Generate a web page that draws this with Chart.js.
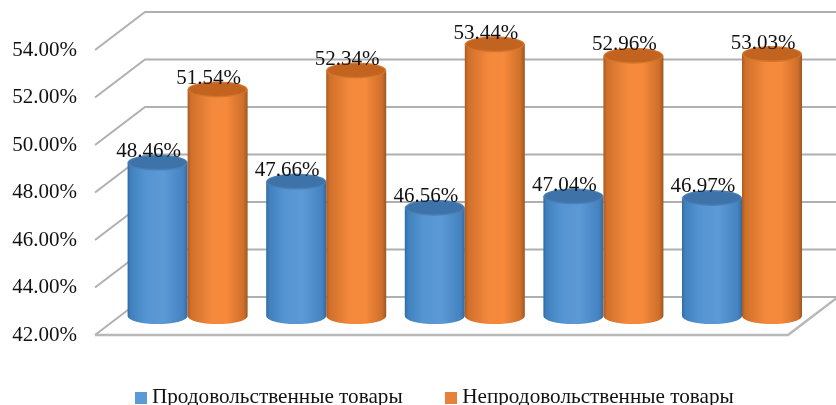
<!DOCTYPE html>
<html>
<head>
<meta charset="utf-8">
<style>
html,body{margin:0;padding:0;background:#fff;overflow:hidden}
canvas{display:block;filter:blur(0.6px)}
</style>
<script src="https://cdn.jsdelivr.net/npm/chart.js@4"></script>
</head>
<body>
<canvas id="c" width="836" height="405"></canvas>
<script>
const categories = ['1', '2', '3', '4', '5'];
const foodValues = [48.46, 47.66, 46.56, 47.04, 46.97];
const nonFoodValues = [51.54, 52.34, 53.44, 52.96, 53.03];
const seriesNames = ['Продовольственные товары', 'Непродовольственные товары'];
const seriesColors = ['#5b9bd5', '#e8803a'];

const FONT = '"Liberation Serif","Times New Roman",serif';
const depthX = 50, depthY = 38;      // wall offset of the 3D box
const midX = 23.3, midY = 19;        // cylinders stand mid-depth
const ry = 8;

const ramps = [
  [[0,'#33699f'],[0.05,'#4080bd'],[0.3,'#5494d2'],[0.6,'#5c9ad6'],[0.93,'#4483c0'],[1,'#36699c']],
  [[0,'#ad5a20'],[0.06,'#d0702c'],[0.4,'#f4893c'],[0.65,'#f6893b'],[0.93,'#cf6f2a'],[1,'#9c5722']]
];
const tops = [['#3d73a9','#4a80b6'],['#c2641f','#d4762c']];

function markerImage(color){
  const m = document.createElement('canvas');
  m.width = 12; m.height = 12;
  const g = m.getContext('2d');
  g.fillStyle = color; g.fillRect(0,0,12,12);
  return m;
}

const box3d = {
  id:'box3d',
  beforeDatasetsDraw(chart){
    const {ctx, chartArea:a, scales:{y}} = chart;
    const by = y.getPixelForValue(y.min);
    ctx.save();
    ctx.lineWidth = 2;
    ctx.strokeStyle = '#b0b0b0';
    y.ticks.forEach(t=>{
      const py = y.getPixelForValue(t.value);
      ctx.beginPath();
      ctx.moveTo(a.left, py);
      ctx.lineTo(a.left+depthX, py-depthY);
      ctx.lineTo(a.right+depthX, py-depthY);
      ctx.stroke();
    });
    ctx.strokeStyle = '#b8b8b8';
    ctx.lineWidth = 2.5;
    ctx.beginPath();
    ctx.moveTo(a.left, by);
    ctx.lineTo(a.right, by);
    ctx.lineTo(a.right+depthX, by-depthY);
    ctx.stroke();

    // cylinders, placed from the bar elements the library laid out
    chart.data.datasets.forEach((ds,d)=>{
      chart.getDatasetMeta(d).data.forEach(bar=>{
        const cx = bar.x+midX, rx = bar.width/2;
        const topY = bar.y-midY, botY = by-midY;
        const g = ctx.createLinearGradient(cx-rx,0,cx+rx,0);
        ramps[d].forEach(s=>g.addColorStop(s[0],s[1]));
        ctx.fillStyle = g;
        ctx.beginPath();
        ctx.moveTo(cx-rx, topY);
        ctx.lineTo(cx-rx, botY);
        ctx.ellipse(cx, botY, rx, ry, 0, Math.PI, 0, true);
        ctx.lineTo(cx+rx, topY);
        ctx.closePath();
        ctx.fill();
        ctx.fillStyle = tops[d][1];
        ctx.beginPath();
        ctx.ellipse(cx, topY, rx, ry, 0, 0, Math.PI*2);
        ctx.fill();
        ctx.fillStyle = tops[d][0];
        ctx.beginPath();
        ctx.ellipse(cx, topY, rx-1.5, ry-1.5, 0, 0, Math.PI*2);
        ctx.fill();
      });
    });

    // value labels
    ctx.font = '21px '+FONT;
    ctx.fillStyle = '#111';
    ctx.textAlign = 'center';
    ctx.textBaseline = 'middle';
    chart.data.datasets.forEach((ds,d)=>{
      chart.getDatasetMeta(d).data.forEach((bar,i)=>{
        ctx.fillText(ds.data[i].toFixed(2)+'%', bar.x+midX-9, bar.y-midY-11);
      });
    });
    ctx.restore();
    return false;
  }
};

new Chart(document.getElementById('c'),{
  type:'bar',
  data:{
    labels:categories,
    datasets:[
      {label:seriesNames[0],data:foodValues,backgroundColor:seriesColors[0]},
      {label:seriesNames[1],data:nonFoodValues,backgroundColor:seriesColors[1]}
    ]
  },
  plugins:[box3d],
  options:{
    responsive:false,
    animation:false,
    layout:{padding:{left:8,right:-30,top:50,bottom:-13.2}},
    datasets:{bar:{categoryPercentage:0.866,barPercentage:1}},
    plugins:{
      tooltip:{enabled:false},
      legend:{
        position:'bottom',
        labels:{
          color:'#111',
          font:{family:FONT,size:21.2},
          padding:48,
          boxHeight:12,
          usePointStyle:true,
          pointStyleWidth:1,
          generateLabels(chart){
            return chart.data.datasets.map((ds,i)=>({
              text:ds.label,
              fontColor:'#111',
              pointStyle:markerImage(ds.backgroundColor),
              datasetIndex:i,
              hidden:false
            }));
          }
        }
      }
    },
    scales:{
      x:{
        grid:{display:false,drawTicks:false},
        border:{display:false},
        ticks:{display:false},
        afterFit(s){s.height=4;}
      },
      y:{
        min:42,max:54,
        grid:{display:false,drawTicks:false},
        border:{display:false},
        ticks:{
          stepSize:2,
          padding:18,
          color:'#111',
          font:{family:FONT,size:21},
          callback:v=>v.toFixed(2)+'%'
        },
        afterFit(s){s.width=87;}
      },
      spacer:{
        position:'right',
        grid:{display:false,drawTicks:false},
        border:{display:false},
        ticks:{display:false},
        afterFit(s){s.width=78;}
      }
    }
  }
});
</script>
</body>
</html>
